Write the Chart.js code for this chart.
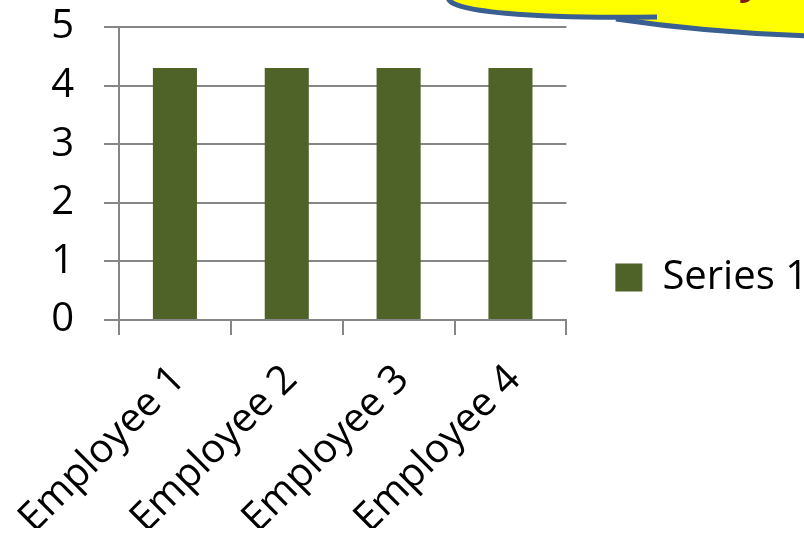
<!DOCTYPE html>
<html>
<head>
<meta charset="utf-8">
<script src="https://cdn.jsdelivr.net/npm/chart.js@4/dist/chart.umd.min.js"></script>
<style>
  html, body { margin: 0; padding: 0; background: #ffffff; }
  #wrap { position: relative; width: 804px; height: 542px; }
</style>
</head>
<body>
<div id="wrap"><canvas id="chart" width="804" height="542"></canvas></div>
<script>
// Chart data
const categories = ['Employee 1', 'Employee 2', 'Employee 3', 'Employee 4'];
const series1 = [4.3, 4.3, 4.3, 4.3];
const seriesName = 'Series 1';
const yMin = 0;
const yMax = 5;
const yStep = 1;

const FONT = '"Open Sans", sans-serif';
const GRID = '#868686';
const BAR = '#4F6228';

// Speech-bubble fragment peeking in at the top right
const calloutPlugin = {
  id: 'callout',
  afterDraw(chart) {
    const ctx = chart.ctx;
    ctx.save();
    ctx.fillStyle = '#FFFF00';
    ctx.beginPath();
    ctx.moveTo(449, -4);
    ctx.bezierCurveTo(440, 12, 540, 19, 618, 19);
    ctx.bezierCurveTo(690, 30, 750, 34, 810, 36);
    ctx.lineTo(810, -4);
    ctx.closePath();
    ctx.fill();

    ctx.fillStyle = '#7B1C1C';
    ctx.font = 'bold italic 40px ' + FONT;
    ctx.fillText('y', 743, -6);

    ctx.strokeStyle = '#3A5F91';
    ctx.lineWidth = 5;
    ctx.beginPath();
    ctx.moveTo(449, -4);
    ctx.bezierCurveTo(440, 12, 540, 19, 657, 17);
    ctx.stroke();
    ctx.beginPath();
    ctx.moveTo(616, 19);
    ctx.bezierCurveTo(690, 30, 750, 34, 810, 36);
    ctx.stroke();
    ctx.restore();
  }
};

new Chart(document.getElementById('chart'), {
  type: 'bar',
  data: {
    labels: categories,
    datasets: [{
      label: seriesName,
      data: series1,
      backgroundColor: BAR,
      borderWidth: 0,
      categoryPercentage: 1,
      barPercentage: 0.394
    }]
  },
  options: {
    responsive: false,
    animation: false,
    devicePixelRatio: 1,
    layout: { padding: { top: 27, right: -14, bottom: 14, left: 0 } },
    plugins: {
      legend: {
        position: 'right',
        maxWidth: 320,
        labels: {
          boxWidth: 27,
          boxHeight: 28,
          padding: 49,
          color: '#000000',
          font: { family: FONT, size: 40 }
        }
      },
      tooltip: { enabled: false }
    },
    scales: {
      x: {
        grid: { offset: true, drawOnChartArea: false, drawTicks: true, tickLength: 15, color: GRID, lineWidth: 2 },
        border: { display: true, color: GRID, width: 2 },
        ticks: {
          maxRotation: 45, minRotation: 45, autoSkip: false, padding: 21, labelOffset: 4,
          color: '#000000', font: { family: FONT, size: 40 }
        },
        afterFit(scale) {
          scale.height = 208;
          scale.paddingLeft = 0;
          scale.paddingRight = 0;
        }
      },
      y: {
        min: yMin, max: yMax,
        grid: { drawTicks: true, tickLength: 15, color: GRID, lineWidth: 2 },
        border: { display: true, color: GRID, width: 2 },
        ticks: { stepSize: yStep, padding: 30, color: '#000000', font: { family: FONT, size: 40 } },
        afterFit(scale) {
          scale.width = 119;
          scale.paddingTop = 0;
          scale.paddingBottom = 0;
        }
      }
    }
  },
  plugins: [calloutPlugin]
});
</script>
</body>
</html>
